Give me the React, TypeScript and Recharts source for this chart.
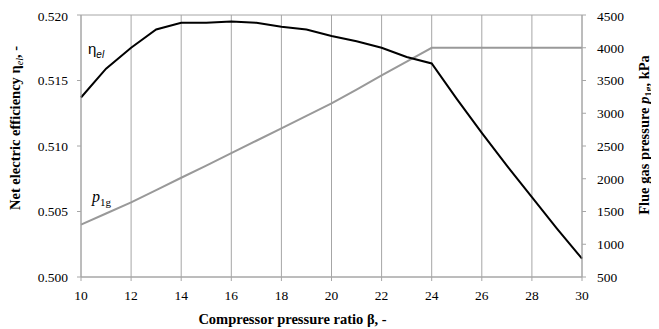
import React from "react";
import {
  LineChart,
  Line,
  XAxis,
  YAxis,
  CartesianGrid,
} from "recharts";

// compressor pressure ratio beta
const beta = [10, 11, 12, 13, 14, 15, 16, 17, 18, 19, 20, 21, 22, 23, 24, 25, 26, 27, 28, 29, 30];
// net electric efficiency
const etaEl = [
  0.5137, 0.5159, 0.5175, 0.5189, 0.5194, 0.5194, 0.5195, 0.5194, 0.5191, 0.5189, 0.5184,
  0.518, 0.5175, 0.5168, 0.5163, 0.5136, 0.511, 0.5085, 0.5061, 0.5037, 0.5014,
];
// flue gas pressure, kPa
const p1g = [
  1300, 1470, 1640, 1825, 2015, 2200, 2390, 2580, 2770, 2960, 3150, 3360, 3580, 3790, 4000,
  4000, 4000, 4000, 4000, 4000, 4000,
];

const xTicks = [10, 12, 14, 16, 18, 20, 22, 24, 26, 28, 30];
const etaTicks = [0.5, 0.505, 0.51, 0.515, 0.52];
const pTicks = [500, 1000, 1500, 2000, 2500, 3000, 3500, 4000, 4500];

const data = beta.map((b, i) => ({ beta: b, eta: etaEl[i], p: p1g[i] }));

const FONT = "'Liberation Serif', 'Times New Roman', Times, serif";
const GRID = "#a6a6a6";

const tickStyle = { fontFamily: FONT, fontSize: 13.5, fill: "#000" };

const LeftTitle = ({ viewBox }: any) => {
  const cx = viewBox.x + 12;
  const cy = viewBox.y + viewBox.height / 2 - 18;
  return (
    <text
      x={cx}
      y={cy}
      transform={`rotate(-90, ${cx}, ${cy})`}
      textAnchor="middle"
      fontFamily={FONT}
      fontSize={14.5}
      fontWeight="bold"
      fill="#000"
    >
      Net electric efficiency η
      <tspan fontStyle="italic" fontWeight="normal" fontSize={10} dy={3}>el</tspan>
      <tspan dy={-3}>, -</tspan>
    </text>
  );
};

const RightTitle = ({ viewBox }: any) => {
  const cx = viewBox.x + 67;
  const cy = viewBox.y + viewBox.height / 2 - 11;
  return (
    <text
      x={cx}
      y={cy}
      transform={`rotate(-90, ${cx}, ${cy})`}
      textAnchor="middle"
      fontFamily={FONT}
      fontSize={14.5}
      fontWeight="bold"
      fill="#000"
    >
      Flue gas pressure <tspan fontStyle="italic">p</tspan>
      <tspan fontSize={10} dy={3}>1g</tspan>
      <tspan dy={-3}>, kPa</tspan>
    </text>
  );
};

const BottomTitle = ({ viewBox }: any) => {
  const cx = viewBox.x + viewBox.width / 2 - 39;
  const cy = viewBox.y + 47;
  return (
    <text
      x={cx}
      y={cy}
      textAnchor="middle"
      fontFamily={FONT}
      fontSize={14.5}
      fontWeight="bold"
      fill="#000"
    >
      Compressor pressure ratio β, -
    </text>
  );
};

export default function App() {
  return (
    <div
      style={{
        position: "relative",
        width: 651,
        height: 321,
        background: "#fff",
        fontFamily: FONT,
      }}
    >
      <LineChart
        width={651}
        height={321}
        data={data}
        margin={{ top: 7, right: 0, left: 0, bottom: 0 }}
      >
        <CartesianGrid stroke={GRID} strokeWidth={1} />
        <XAxis
          dataKey="beta"
          type="number"
          domain={[10, 30]}
          ticks={xTicks}
          height={52}
          stroke={GRID}
          tickSize={4}
          tickMargin={9}
          tick={tickStyle}
          label={<BottomTitle />}
        />
        <YAxis
          yAxisId="left"
          domain={[0.5, 0.52]}
          ticks={etaTicks}
          width={73}
          stroke={GRID}
          tickSize={4}
          tickMargin={9}
          tick={tickStyle}
          tickFormatter={(v: number) => v.toFixed(3)}
          label={<LeftTitle />}
        />
        <YAxis
          yAxisId="right"
          orientation="right"
          domain={[500, 4500]}
          ticks={pTicks}
          width={77}
          stroke={GRID}
          tickSize={4}
          tickMargin={11}
          tick={tickStyle}
          label={<RightTitle />}
        />
        <Line
          yAxisId="right"
          dataKey="p"
          type="linear"
          stroke="#999999"
          strokeWidth={2}
          dot={false}
          isAnimationActive={false}
        />
        <Line
          yAxisId="left"
          dataKey="eta"
          type="linear"
          stroke="#000"
          strokeWidth={2}
          dot={false}
          isAnimationActive={false}
        />
      </LineChart>
      <div
        style={{
          position: "absolute",
          left: 80,
          top: 33,
          fontFamily: "Liberation Sans",
          fontSize: 15,
          lineHeight: "16px",
        }}
      >
        η<sub style={{ fontStyle: "italic", fontSize: 10 }}>el</sub>
      </div>
      <div
        style={{
          position: "absolute",
          left: 84,
          top: 181,
          fontFamily: FONT,
          fontSize: 16,
          lineHeight: "16px",
        }}
      >
        <i>p</i>
        <sub style={{ fontSize: 11 }}>1g</sub>
      </div>
    </div>
  );
}
